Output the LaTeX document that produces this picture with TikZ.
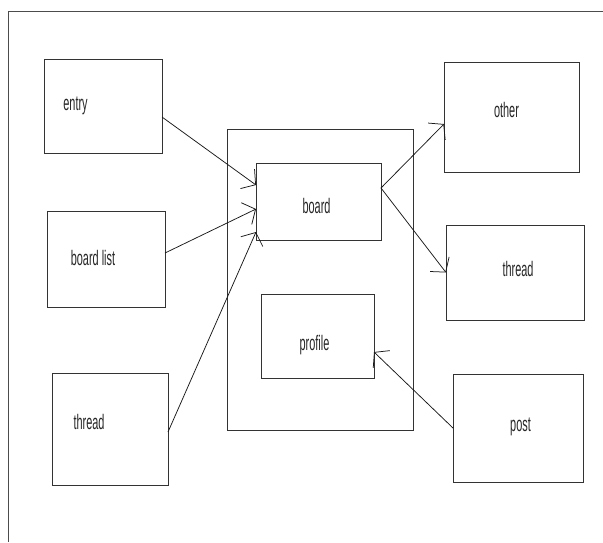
\documentclass[tikz,border=0pt]{standalone}
\usepackage{fontspec}
\setmainfont[FakeStretch=0.52]{Liberation Sans}
\usetikzlibrary{arrows.meta}
\tikzset{
  box/.style={draw=black!80, line width=1pt, fill=white, inner sep=0pt, outer sep=0pt},
  lbl/.style={anchor=base, inner sep=0pt, text=black!85, font=\fontsize{21}{24}\selectfont},
  link/.style={draw=black!90, line width=0.75pt, -{Straight Barb[length=10pt,width=24pt,line width=0.75pt]}},
  frame/.style={draw=black!70, line width=1pt}
}
\newcommand{\boxat}[5]{%
  \node[box, minimum width=#4pt-#2pt, minimum height=#5pt-#3pt] (#1) at ({(#2+#4)/2},{(#3+#5)/2}) {};}
\begin{document}
\begin{tikzpicture}[x=1pt,y=-1pt]
  \useasboundingbox (0,0) rectangle (603,542);
  % outer frame (top and left edges)
  \coordinate (ftl) at (8,11);
  \coordinate (ftr) at (603,11);
  \coordinate (fbl) at (8,542);
  \draw[frame] (ftr) -- (ftl) -- (fbl);

  % central container
  \boxat{core}{227}{129}{413}{430}

  % boxes
  \boxat{entry}{44}{59}{162}{153}
  \boxat{blist}{47}{211}{165}{307}
  \boxat{lthread}{52}{373}{168}{485}
  \boxat{board}{256}{163}{381}{240}
  \boxat{profile}{261}{294}{374}{378}
  \boxat{other}{444}{62}{579}{172}
  \boxat{rthread}{446}{225}{584}{320}
  \boxat{post}{453}{374}{583}{482}

  % labels
  \node[lbl] (t-entry) at (75.5,110) {entry};
  \node[lbl] (t-blist) at (93,265) {board list};
  \node[lbl] (t-lthread) at (89,429) {thread};
  \node[lbl] (t-board) at (316.5,213) {board};
  \node[lbl] (t-profile) at (314.5,350) {profile};
  \node[lbl] (t-other) at (506.5,117) {other};
  \node[lbl] (t-rthread) at (518,276) {thread};
  \node[lbl] (t-post) at (520.5,431) {post};

  % connectors
  \draw[link] ([yshift=-11pt]entry.east) -- ([yshift=16.5pt]board.west);
  \draw[link] ([yshift=6pt]blist.east) -- ([yshift=-7.5pt]board.west);
  \draw[link] ([yshift=-3pt]lthread.east) -- ([yshift=-30.5pt]board.west);
  \draw[link] ([yshift=13.5pt]board.east) -- ([yshift=-7pt]other.west);
  \draw[link] ([yshift=13.5pt]board.east) -- (rthread.west);
  \draw[link] (post.west) -- ([yshift=-16pt]profile.east);
\end{tikzpicture}
\end{document}
